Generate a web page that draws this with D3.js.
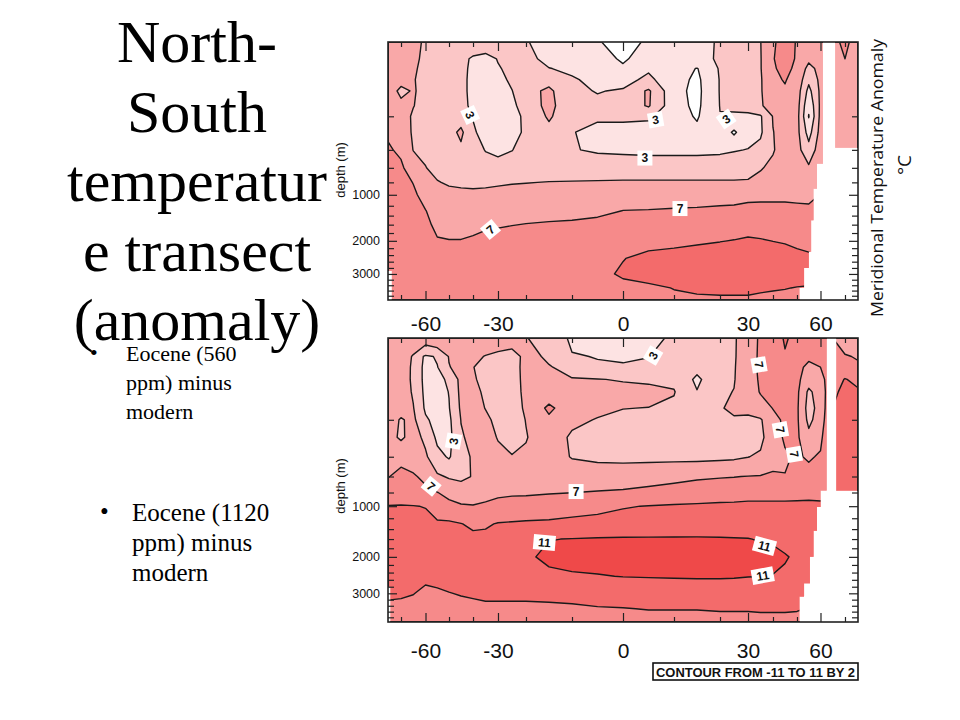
<!DOCTYPE html>
<html><head><meta charset="utf-8">
<script src="https://cdn.jsdelivr.net/npm/d3@7"></script>
<style>body{margin:0;background:#fff;} svg{display:block;}</style>
</head><body>
<svg id="chart" width="960" height="720"></svg>
<script>
// ---------------- DATA ----------------
const lats = [-75,-70,-65,-60,-55,-50,-45,-40,-35,-30,-25,-20,-15,-10,-5,0,5,10,15,20,25,30,35,40,45,50,55,60,65,70,75];
const depths = [0,3,10,25,50,100,150,250,400,600,800,1000,1300,1600,2000,2500,3000,3500,3970];

// Eocene (560 ppm) minus modern, rows = depths, cols = lats (deg C)
const anomaly560 = [
[5.8,5.6,5.2,4.9,4.4,4.2,4.1,3.8,3.4,3.6,3.9,3.1,2.4,2.0,1.1,0.5,1.2,2.0,2.4,3.2,3.8,4.3,4.95,6.8,7.6,6.9,6.0,6.2,6.5,7.4,6.2],
[5.8,5.6,5.3,4.7,4.3,4.2,4.0,2.5,2.3,3.1,3.8,3.4,2.6,2.2,1.6,0.8,1.7,2.2,2.5,3.2,3.8,4.3,4.9,6.9,7.8,6.8,5.3,6.0,6.4,7.0,6.0],
[5.8,5.6,5.2,4.6,4.2,4.1,4.0,2.2,1.9,2.8,3.6,3.8,3.05,2.7,2.0,1.3,2.8,2.2,0.9,3.2,3.8,4.3,4.9,6.8,7.5,6.6,4.4,5.6,6.3,6.6,5.8],
[5.8,5.5,5.1,4.5,4.2,4.1,4.0,2.0,1.8,2.5,3.3,4.2,4.4,3.2,2.5,2.4,3.4,1.8,0.6,3.1,3.7,4.2,4.8,6.7,7.1,6.4,3.4,5.5,6.3,6.4,5.8],
[5.9,4.6,5.15,4.5,4.2,4.1,4.0,2.0,1.8,2.3,2.95,4.3,5.4,3.4,2.9,3.2,5.3,1.6,0.5,3.1,3.6,4.1,4.8,6.5,6.8,6.0,2.4,5.4,6.3,6.4,5.9],
[6.1,5.5,5.05,4.5,4.2,4.2,4.1,2.2,1.9,2.2,2.6,3.8,5.6,3.5,3.5,3.8,5.2,1.7,0.6,3.05,3.4,3.9,4.7,6.2,6.4,5.8,1.4,5.4,6.4,6.5,6.0],
[6.4,5.7,4.8,4.5,4.3,4.2,4.2,2.9,2.0,2.1,2.5,3.3,5.3,3.4,3.3,3.4,3.3,1.9,0.8,2.95,2.7,2.5,2.8,5.1,5.8,5.7,0.9,5.5,6.4,6.6,6.2],
[6.8,5.9,4.8,4.5,4.3,4.3,5.4,3.3,2.2,2.0,2.6,3.2,4.3,3.1,2.4,2.2,2.1,2.1,1.5,2.3,0.7,2.4,2.7,4.95,5.7,5.6,2.2,5.7,6.5,6.8,6.4],
[7.2,6.7,4.95,4.7,4.4,4.4,4.6,4.0,2.9,2.5,2.95,3.7,3.8,3.1,2.8,2.7,2.6,2.6,2.6,2.7,2.9,3.05,3.6,4.9,5.6,5.6,3.8,6.0,6.6,7.0,6.8],
[7.5,7.3,6.0,5.05,4.5,4.4,4.5,4.4,4.0,3.9,3.9,4.2,4.1,4.0,4.0,4.0,4.0,4.0,4.0,4.0,4.0,4.1,4.9,5.3,5.7,5.3,5.3,6.4,6.7,7.2,7.2],
[7.8,7.6,6.95,5.8,5.1,4.8,4.7,4.6,4.7,4.8,4.9,4.95,5.05,5.1,5.15,5.2,5.2,5.2,5.2,5.2,5.2,5.25,5.4,5.8,6.0,5.6,6.0,6.6,6.8,7.4,7.4],
[8.0,7.8,7.3,6.4,5.8,5.5,5.4,5.4,5.4,5.5,5.6,5.7,5.8,5.9,6.0,6.3,6.4,6.5,6.5,6.6,6.6,6.7,6.7,6.7,6.7,6.6,6.5,7.05,7.2,7.6,7.6],
[8.0,8.0,7.7,7.05,6.3,6.0,6.0,6.1,6.2,6.3,6.3,6.4,6.5,6.5,6.6,7.02,7.05,7.1,7.15,7.2,7.25,7.35,7.4,7.4,7.4,7.4,7.4,7.6,7.6,7.8,7.8],
[8.0,8.0,7.9,7.3,6.7,6.5,6.5,6.6,6.8,6.85,6.95,7.05,7.15,7.25,7.5,7.8,7.9,8.0,8.1,8.2,8.3,8.4,8.4,8.3,8.3,8.2,8.0,8.0,8.0,8.0,8.0],
[8.1,8.1,8.0,7.6,7.1,7.05,7.05,7.2,7.4,7.6,7.8,7.9,8.0,8.1,8.2,8.3,8.5,8.6,8.8,8.95,9.05,9.2,9.1,8.98,8.9,8.7,8.5,8.4,8.4,8.4,8.4],
[8.2,8.2,8.2,8.0,7.8,7.7,7.8,7.9,8.0,8.1,8.2,8.3,8.4,8.5,8.6,8.95,9.4,9.6,9.7,9.8,9.8,9.8,9.7,9.6,9.5,9.4,9.3,8.9,8.9,8.9,8.9],
[8.2,8.2,8.2,8.1,8.0,7.9,7.9,8.0,8.1,8.2,8.3,8.4,8.5,8.6,8.6,9.2,9.6,9.8,9.9,10.0,10.0,10.0,9.9,9.8,9.7,9.6,9.5,8.9,8.9,8.9,8.9],
[8.2,8.2,8.2,8.2,8.2,8.2,8.2,8.2,8.3,8.3,8.4,8.4,8.4,8.5,8.5,8.6,8.7,9.05,9.2,9.3,9.3,9.3,9.2,9.1,9.05,8.95,8.9,8.8,8.8,8.8,8.8],
[8.2,8.2,8.2,8.2,8.2,8.3,8.3,8.3,8.3,8.4,8.5,8.6,8.6,8.6,8.6,8.6,8.6,8.7,8.8,8.8,8.8,8.8,8.7,8.7,8.6,8.6,8.6,8.5,8.5,8.5,8.5]
];

// Eocene (1120 ppm) minus modern
const anomaly1120 = [
[5.9,6.0,5.6,5.2,5.4,5.4,5.6,5.7,5.6,5.4,5.2,5.05,4.5,2.6,2.3,2.0,2.3,3.4,4.0,4.4,4.8,6.0,7.3,8.0,9.2,8.5,7.6,7.5,7.0,6.5,6.0],
[6.0,6.2,4.8,2.6,3.2,5.1,5.7,5.5,4.9,4.5,4.4,5.4,4.8,3.4,2.8,2.5,2.95,3.8,3.9,4.5,4.8,6.2,7.3,7.6,8.4,7.8,7.3,7.4,7.2,7.2,6.8],
[6.1,6.3,4.6,2.4,2.9,4.9,5.7,5.05,4.4,4.2,4.2,5.6,5.1,4.5,3.8,3.5,3.6,4.1,3.5,4.5,4.85,6.3,7.3,7.5,7.6,7.6,6.5,7.0,7.5,8.0,7.5],
[6.2,6.2,4.6,2.4,2.5,3.3,5.6,5.2,4.5,4.1,4.1,5.6,5.6,5.1,5.05,4.9,4.6,4.7,2.6,4.6,4.9,6.3,7.2,7.4,7.5,7.5,5.8,6.5,8.0,9.1,8.5],
[6.2,6.0,4.8,2.5,2.3,3.05,5.5,5.5,4.7,4.1,4.1,5.5,6.0,5.6,5.5,5.5,5.8,5.1,3.1,4.7,5.05,6.2,7.1,7.3,7.4,7.4,4.6,6.0,8.5,9.6,9.3],
[6.1,5.6,5.1,2.7,2.2,2.9,5.3,5.7,4.95,4.2,4.1,5.3,7.4,5.8,5.4,5.05,4.95,4.6,3.9,4.8,5.5,5.5,6.3,7.05,7.4,7.3,4.2,5.8,9.0,9.8,9.6],
[5.8,4.85,5.4,3.3,2.3,2.6,5.05,5.7,5.4,4.5,4.2,5.05,6.6,5.4,4.9,4.4,4.2,4.0,3.9,4.9,4.7,4.6,4.8,6.5,7.3,7.3,4.5,6.0,9.2,9.9,9.7],
[5.7,4.7,5.7,4.6,2.6,2.4,4.8,5.5,5.7,4.9,4.3,4.9,6.1,4.7,4.3,4.2,4.0,3.9,3.8,4.0,4.2,4.2,4.5,6.3,7.2,7.3,5.6,6.6,9.3,9.9,9.7],
[6.5,6.7,6.2,5.3,3.6,2.8,4.4,5.2,5.6,5.5,5.1,5.3,5.8,4.9,4.6,4.5,4.5,4.5,4.5,4.6,4.7,4.95,5.3,6.5,6.8,7.2,6.8,7.2,9.3,9.8,9.6],
[6.95,7.3,7.2,6.6,5.3,4.8,4.6,5.1,5.9,6.0,5.8,6.0,6.2,6.0,6.1,6.2,6.4,6.6,6.8,6.9,6.95,7.05,7.1,7.2,7.05,7.4,7.6,7.6,9.2,9.6,9.5],
[7.5,8.0,7.9,7.4,7.05,6.4,6.0,6.0,6.4,6.7,6.8,6.8,6.9,6.98,7.1,7.2,7.4,7.6,7.8,8.0,8.1,8.2,8.2,8.2,8.2,8.3,8.4,8.4,8.9,9.2,9.2],
[9.1,9.1,9.05,8.95,8.0,7.6,7.2,7.1,7.3,7.5,7.6,7.7,7.9,8.4,8.6,8.9,9.05,9.2,9.3,9.4,9.4,9.5,9.5,9.5,9.5,9.5,9.5,9.4,9.4,9.4,9.4],
[9.5,9.6,9.5,9.4,9.3,9.3,9.05,8.7,8.8,9.1,9.2,9.3,9.35,9.4,9.5,9.6,9.7,9.8,9.9,10.0,10.0,10.1,10.0,10.0,9.9,9.8,9.7,9.6,9.5,9.5,9.5],
[9.8,9.9,9.9,9.8,9.8,9.8,9.6,9.4,9.4,9.6,10.0,10.9,10.95,11.05,11.15,11.2,11.2,11.2,11.2,11.15,11.1,11.05,10.9,10.8,10.6,10.4,10.2,10.0,10.0,10.0,10.0],
[9.9,10.0,10.0,9.9,9.9,10.0,10.1,10.1,10.2,10.3,10.4,10.7,11.4,11.6,11.7,11.8,11.8,11.8,11.8,11.7,11.7,11.6,11.5,11.4,11.1,10.8,10.4,10.0,10.0,10.0,10.0],
[9.8,9.9,9.8,9.3,9.4,9.6,9.9,10.0,10.1,10.2,10.3,10.4,10.6,10.8,10.9,11.05,11.1,11.15,11.2,11.2,11.15,11.05,11.02,10.95,10.8,10.5,10.2,10.0,10.0,10.0,10.0],
[9.3,9.2,9.05,8.7,8.8,8.95,9.1,9.2,9.3,9.3,9.3,9.3,9.4,9.5,9.6,9.7,9.8,9.8,9.8,9.8,9.8,9.8,9.7,9.7,9.7,9.6,9.5,9.5,9.5,9.5,9.5],
[8.6,8.6,8.5,8.2,8.3,8.4,8.5,8.6,8.7,8.7,8.7,8.7,8.7,8.75,8.9,8.95,9.05,9.05,9.05,9.1,9.1,9.1,9.15,9.15,9.15,9.1,8.95,8.9,8.9,8.9,8.9],
[8.0,8.1,8.1,8.0,8.0,8.1,8.2,8.3,8.3,8.4,8.4,8.4,8.5,8.5,8.5,8.5,8.5,8.5,8.5,8.6,8.6,8.6,8.6,8.6,8.6,8.6,8.6,8.5,8.5,8.5,8.5]
];

// land / no-data mask: latitude interval edges and sea-floor depth for each interval
const maskLat560 = [-75,-73.5,51,53,55,56,57,58.5,61,66,75];
const maskFloor560 = [2900,3970,3500,2800,2300,1500,900,550,0,380];
const maskLat1120 = [-75,-74,51,53,55.5,57,58.5,60,62.5,66.5,75];
const maskFloor1120 = [2800,3970,3100,2700,2000,1430,1013,773,0,773];

// contour levels (CONTOUR FROM -11 TO 11 BY 2, positive part visible)
const levels = [1,3,5,7,9,11];
const levelColors = ['#fde3e3','#fbc6c6','#f9a8a8','#f68a8a','#f36b6b','#ef4949'];

// inline contour labels: [lat, depth, text, angle]
const labels560 = [[-41.2,143,'3',65],[6.4,169,'3',-10],[22.2,165,'3',-35],[4.3,485,'3',0],[11.3,1255,'7',0],[-33,1714,'7',-40]];
const labels1120 = [[5.9,2.6,'3',-60],[34.4,8,'7',80],[-48.1,276,'3',-80],[43.1,203,'7',80],[48.9,379,'7',80],[-57.6,717,'7',40],[-9.2,787,'7',0],[-16,1674,'11',5],[36.6,1748,'11',15],[35.9,2483,'11',-10]];

// axes
const latKnots = [-75,-70,-60,-50,-40,-30,-20,-10,0,10,20,30,40,50,60,70,75];
const latMajor = [-60,-30,0,30,60];
const latMinor = [-70,-50,-40,-20,-10,10,20,40,50,70];
const depthMajor = [1000,2000,3000];
const depthMinor = [150,400,600,800,1200,1400,1600,1800,2200,2400,2600,2800,3200,3400,3600,3800];

const titleLines = ['North-','South','temperatur','e transect','(anomaly)'];
const bullet1 = ['Eocene (560','ppm) minus','modern'];
const bullet2 = ['Eocene (1120','ppm) minus','modern'];

// ---------------- DRAW ----------------
const svg = d3.select('#chart');
const frameL = 388, frameR = 858;
const latFrac = [0,.0277,.0798,.1298,.1809,.234,.2936,.3915,.5,.6085,.7064,.766,.8191,.8702,.9202,.9723,1];
const x = d3.scaleLinear().domain(latKnots).range(latFrac.map(f => frameL + f*(frameR-frameL)));
const nc = lats.length, nr = depths.length;

function interp(arr, s){ const i0 = Math.floor(s), i1 = Math.min(i0+1, arr.length-1); return arr[i0] + (s-i0)*(arr[i1]-arr[i0]); }

const panels = [
  {id:'p1', grid: anomaly560, top:42, bottom:300, mLat: maskLat560, mFloor: maskFloor560, labels: labels560, pad:16, depthY:170},
  {id:'p2', grid: anomaly1120, top:338, bottom:622, mLat: maskLat1120, mFloor: maskFloor1120, labels: labels1120, pad:21, depthY:486}
];

const defs = svg.append('defs');
const geo = d3.geoPath();

panels.forEach(p => {
  const y = d3.scalePow().exponent(0.38).domain([0, 3970]).range([p.top, p.bottom]);
  const toPix = pt => {
    const si = Math.max(0, Math.min(nc-1, pt[0]-0.5));
    const sj = Math.max(0, Math.min(nr-1, pt[1]-0.5));
    return [x(interp(lats, si)), y(interp(depths, sj))];
  };
  // mask polygon
  const pts = [];
  for (let i = 0; i < p.mFloor.length; i++) {
    pts.push([x(p.mLat[i]), y(p.mFloor[i])], [x(p.mLat[i+1]), y(p.mFloor[i])]);
  }
  pts.push([x(75), y(0)], [x(-75), y(0)]);
  defs.append('clipPath').attr('id', 'clip-'+p.id)
    .append('path').attr('d', 'M' + pts.map(d => d.join(',')).join('L') + 'Z');

  const g = svg.append('g');
  const cg = g.append('g').attr('clip-path', `url(#clip-${p.id})`);
  const contours = d3.contours().size([nc, nr]).thresholds(levels)(p.grid.flat());
  const shapes = contours.map(c => ({
    type: 'MultiPolygon', value: c.value,
    coordinates: c.coordinates.map(poly => poly.map(ring => ring.map(toPix)))
  }));
  cg.selectAll('path.fill').data(shapes).join('path')
    .attr('class','fill').attr('d', geo).attr('fill', (d,i) => levelColors[i]).attr('stroke', 'none');
  cg.selectAll('path.line').data(shapes).join('path')
    .attr('class','line').attr('d', geo).attr('fill', 'none').attr('stroke', '#1a1a1a').attr('stroke-width', 1.4)
    .attr('stroke-linejoin','round');

  // contour labels
  const lg = g.selectAll('g.lab').data(p.labels).join('g').attr('class','lab')
    .attr('transform', d => `translate(${x(d[0])},${y(d[1])}) rotate(${d[3]})`);
  lg.append('rect').attr('x', d => -(4 + 3.5*d[2].length)).attr('y', -7.5)
    .attr('width', d => 8 + 7*d[2].length).attr('height', 15).attr('fill', '#fff');
  lg.append('text').text(d => d[2]).attr('text-anchor','middle').attr('dy','0.36em')
    .attr('font-family','Liberation Sans, Arial, sans-serif').attr('font-size', 12).attr('font-weight','bold').attr('fill','#111');

  // axes (inward ticks)
  const tickStyle = sel => { sel.select('.domain').remove(); sel.selectAll('line').attr('stroke','#222').attr('stroke-width',1.2); };
  g.append('g').attr('transform',`translate(0,${p.bottom})`)
    .call(d3.axisBottom(x).tickValues(latMajor).tickSize(-9).tickPadding(p.pad).tickFormat(d => String(d)))
    .call(tickStyle)
    .selectAll('text').attr('font-family','Liberation Sans, Arial, sans-serif').attr('font-size',21).attr('fill','#111');
  g.append('g').attr('transform',`translate(0,${p.bottom})`)
    .call(d3.axisBottom(x).tickValues(latMinor).tickSize(-5).tickFormat('')).call(tickStyle);
  g.append('g').attr('transform',`translate(0,${p.top})`)
    .call(d3.axisTop(x).tickValues(latMajor).tickSize(-9).tickFormat('')).call(tickStyle);
  g.append('g').attr('transform',`translate(0,${p.top})`)
    .call(d3.axisTop(x).tickValues(latMinor).tickSize(-5).tickFormat('')).call(tickStyle);
  g.append('g').attr('transform',`translate(${frameL},0)`)
    .call(d3.axisLeft(y).tickValues(depthMajor).tickSize(-9).tickPadding(8).tickFormat(d => String(d)))
    .call(tickStyle)
    .selectAll('text').attr('font-family','Liberation Sans, Arial, sans-serif').attr('font-size',12.5).attr('fill','#111');
  g.append('g').attr('transform',`translate(${frameL},0)`)
    .call(d3.axisLeft(y).tickValues(depthMinor).tickSize(-6).tickFormat('')).call(tickStyle);
  g.append('g').attr('transform',`translate(${frameR},0)`)
    .call(d3.axisRight(y).tickValues(depthMajor).tickSize(-9).tickFormat('')).call(tickStyle);
  g.append('g').attr('transform',`translate(${frameR},0)`)
    .call(d3.axisRight(y).tickValues(depthMinor).tickSize(-6).tickFormat('')).call(tickStyle);

  g.append('rect').attr('x', frameL).attr('y', p.top).attr('width', frameR-frameL).attr('height', p.bottom-p.top)
    .attr('fill','none').attr('stroke','#222').attr('stroke-width',1.6);

  g.append('text').text('depth (m)').attr('transform',`translate(345,${p.depthY}) rotate(-90)`)
    .attr('text-anchor','middle').attr('font-family','Liberation Sans, Arial, sans-serif').attr('font-size',13).attr('fill','#111');
});

// right colour-bar title
svg.append('text').text('Meridional Temperature Anomaly').attr('transform','translate(883,178) rotate(-90)')
  .attr('text-anchor','middle').attr('font-family','Open Sans, Liberation Sans, sans-serif').attr('font-size',16)
  .attr('textLength',278).attr('lengthAdjust','spacingAndGlyphs').attr('fill','#111');
svg.append('text').text('°C').attr('transform','translate(911,165) rotate(-90)')
  .attr('text-anchor','middle').attr('font-family','Open Sans, Liberation Sans, sans-serif').attr('font-size',19).attr('fill','#111');

// contour info box
svg.append('rect').attr('x',653).attr('y',663).attr('width',205).attr('height',17).attr('fill','#fff').attr('stroke','#111').attr('stroke-width',1.6);
svg.append('text').text('CONTOUR FROM -11 TO 11 BY 2').attr('x',656).attr('y',676.5)
  .attr('font-family','Liberation Sans, Arial, sans-serif').attr('font-weight','bold').attr('font-size',12.5)
  .attr('textLength',199).attr('lengthAdjust','spacingAndGlyphs').attr('fill','#111');

// slide title & bullets
svg.append('g').selectAll('text').data(titleLines).join('text')
  .text(d => d).attr('x',197).attr('y',(d,i) => 62 + i*69.5).attr('text-anchor','middle')
  .attr('font-family','Liberation Serif, Times New Roman, serif').attr('font-size',60).attr('fill','#000');
svg.append('g').selectAll('text').data(bullet1).join('text')
  .text(d => d).attr('x',126).attr('y',(d,i) => 361 + i*29)
  .attr('font-family','Liberation Serif, Times New Roman, serif').attr('font-size',22).attr('fill','#000');
svg.append('g').selectAll('text').data(bullet2).join('text')
  .text(d => d).attr('x',132).attr('y',(d,i) => 521 + i*30)
  .attr('font-family','Liberation Serif, Times New Roman, serif').attr('font-size',25).attr('fill','#000');
svg.append('text').text('•').attr('x',100).attr('y',520).attr('font-family','Liberation Serif, serif').attr('font-size',25);
svg.append('text').text('•').attr('x',90).attr('y',360).attr('font-family','Liberation Serif, serif').attr('font-size',22);
</script>
</body></html>
